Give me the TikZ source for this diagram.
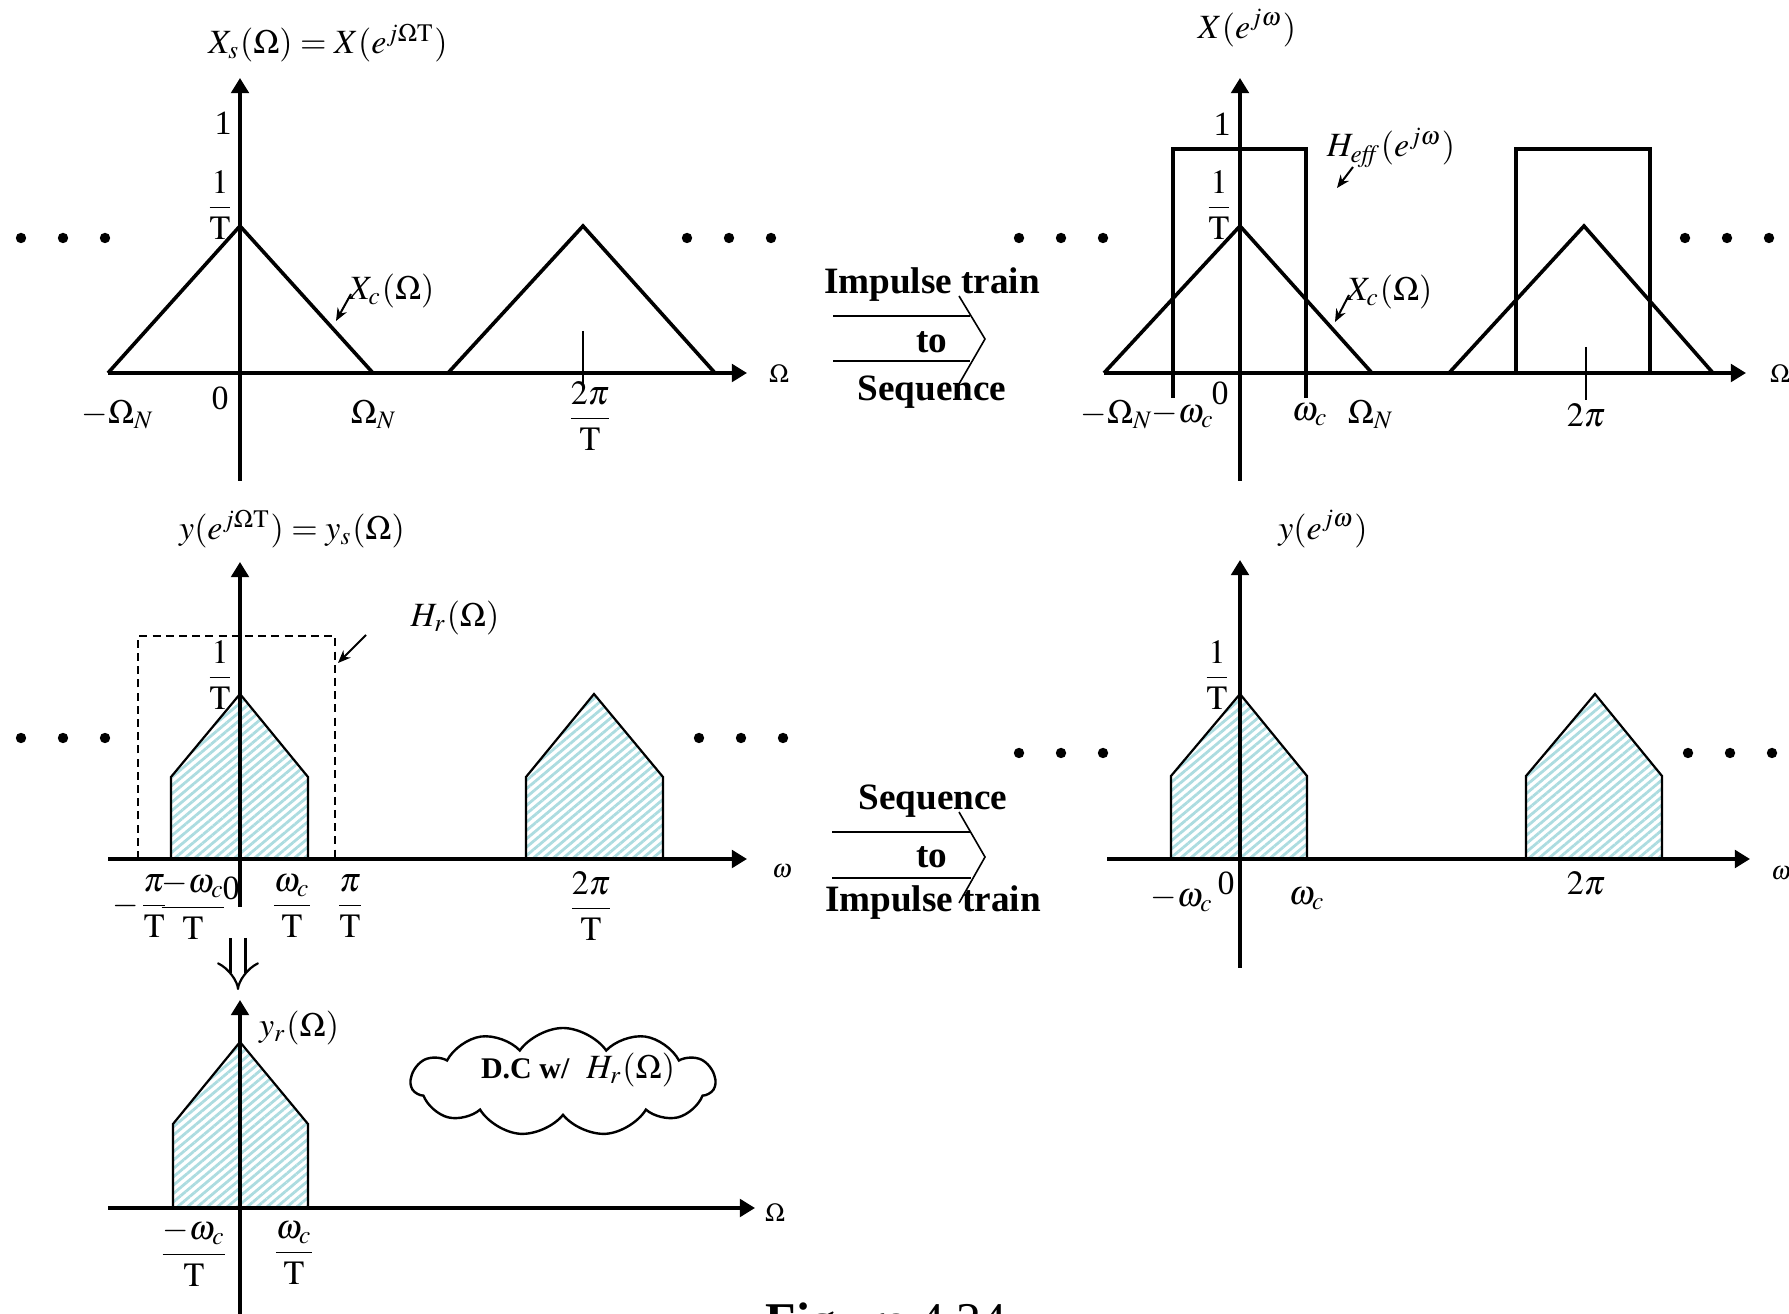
\documentclass[tikz,border=0pt]{standalone}
\usepackage{amsmath}
\usepackage{mathptmx}
\usepackage{fontspec}
\setmainfont{Liberation Serif}
\usepackage{tikz}
\usetikzlibrary{arrows.meta,patterns.meta,shapes.symbols}
\definecolor{hatchBlue}{RGB}{172,220,224}
\tikzset{
  axis/.style     = {line width=0.9pt, -{Triangle[length=3.8pt,width=4.4pt]}},
  spec/.style     = {line width=0.9pt, line join=miter},
  pent/.style     = {draw, line width=0.55pt,
                     pattern={Lines[angle=40,distance=1.6pt,line width=0.7pt]},
                     pattern color=hatchBlue},
  filt/.style     = {line width=0.85pt},
  hbox/.style     = {line width=0.5pt, dash pattern=on 2pt off 1.3pt},
  tickl/.style    = {line width=0.45pt},
  pointer/.style  = {line width=0.5pt, -{Stealth[length=3.2pt,width=2.6pt]}},
  lbl/.style      = {inner sep=0pt, font=\fontsize{8.5}{10}\selectfont},
  axlbl/.style    = {inner sep=0pt, font=\fontsize{6.5}{8}\selectfont},
  convtxt/.style  = {inner sep=0pt, font=\fontsize{9.3}{11}\selectfont\bfseries},
  convline/.style = {line width=0.7pt},
  chev/.style     = {line width=0.4pt},
  dcloud/.style   = {cloud, cloud puffs=11, cloud puff arc=110, draw, line width=0.6pt,
                     minimum width=76pt, minimum height=27pt, inner sep=0pt},
}
\newcommand{\dotrow}[2]{\foreach \k in {0,1,2} {\fill (#1+42*\k,#2) circle[radius=1.3pt];}}

\begin{document}
\begin{tikzpicture}[x=0.25pt, y=-0.25pt]
  \useasboundingbox (0,0) rectangle (1789,1314);

  % sampled spectrum, analog frequency
  \draw[axis] (108,373) -- (747,373);
  \draw[axis] (240,481) -- (240,78);
  \draw[spec] (108,373) -- (240,226) -- (373,373);
  \draw[spec] (448,373) -- (583,226) -- (715,373);
  \draw[tickl] (583,331) -- (583,390);
  \dotrow{21}{238}
  \dotrow{687}{238}
  \node[lbl] (xsTitle) at (328,43) {$X_s(\Omega) = X(e^{j\Omega\mathrm{T}})$};
  \node[lbl] (xsOne) at (223,123) {1};
  \node[lbl] (xsInvT) at (220,205) {$\dfrac{1}{\mathrm{T}}$};
  \node[lbl, anchor=west] (xsXc) at (348,291) {$X_c(\Omega)$};
  \coordinate (xsXcTip) at (336,321);
  \draw[pointer] ([shift={(3,3)}]xsXc.west) -- (xsXcTip);
  \node[lbl] (xsMinN) at (118,415) {$-\Omega_N$};
  \node[lbl] (xsZero) at (220,398) {0};
  \node[lbl] (xsOmN) at (374,415) {$\Omega_N$};
  \node[lbl] (xsTwoPi) at (590,416) {$\dfrac{2\pi}{\mathrm{T}}$};
  \node[axlbl] (xsAx) at (779,374) {$\Omega$};

  % impulse train to sequence
  \node[convtxt] (itTop) at (932,285) {Impulse train};
  \node[convtxt] (toTop) at (932,342) {to};
  \node[convtxt] (seqTop) at (932,392) {Sequence};
  \draw[convline] (833,316) -- (970,316);
  \draw[convline] (833,361) -- (970,361);
  \draw[chev] (959,296) -- (985,339) -- (959,384);

  % discrete-time spectrum with H_eff
  \draw[axis] (1104,373) -- (1746,373);
  \draw[axis] (1240,481) -- (1240,78);
  \draw[filt] (1173,398) -- (1173,149) -- (1306,149) -- (1306,398);
  \draw[filt] (1516,373) rectangle (1650,149);
  \draw[spec] (1104,373) -- (1240,226) -- (1372,373);
  \draw[spec] (1449,373) -- (1584,226) -- (1713,373);
  \draw[tickl] (1586,347) -- (1586,400);
  \dotrow{1019}{238}
  \dotrow{1685}{238}
  \node[lbl] (xwTitle) at (1247,28) {$X(e^{j\omega})$};
  \node[lbl] (xwOne) at (1222,124) {1};
  \node[lbl] (xwInvT) at (1219,205) {$\dfrac{1}{\mathrm{T}}$};
  \node[lbl] (xwHeff) at (1391,148) {$H_{\mathit{eff}}(e^{j\omega})$};
  \coordinate (xwHeffFrom) at (1353,167);
  \coordinate (xwHeffTip) at (1337,188);
  \draw[pointer] (xwHeffFrom) -- (xwHeffTip);
  \node[lbl, anchor=west] (xwXc) at (1346,292) {$X_c(\Omega)$};
  \coordinate (xwXcTip) at (1335,322);
  \draw[pointer] ([shift={(3,3)}]xwXc.west) -- (xwXcTip);
  \node[lbl] (xwMinN) at (1117,415) {$-\Omega_N$};
  \node[lbl] (xwMinC) at (1183,415) {$-\omega_c$};
  \node[lbl] (xwZero) at (1220,393) {0};
  \node[lbl] (xwWc) at (1310,415) {$\omega_c$};
  \node[lbl] (xwOmN) at (1371,415) {$\Omega_N$};
  \node[lbl] (xwTwoPi) at (1586,415) {$2\pi$};
  \node[axlbl] (xwAx) at (1780,374) {$\Omega$};

  % filtered sequence, analog frequency
  \draw[pent] (171,859) -- (171,777) -- (240,694) -- (308,777) -- (308,859) -- cycle;
  \draw[pent] (526,859) -- (526,777) -- (594,694) -- (663,777) -- (663,859) -- cycle;
  \draw[hbox] (138,859) rectangle (335,636);
  \draw[axis] (108,859) -- (747,859);
  \draw[axis] (240,907) -- (240,562);
  \dotrow{21}{738}
  \dotrow{699}{738}
  \node[lbl] (ysTitle) at (292,529) {$y(e^{j\Omega\mathrm{T}}) = y_s(\Omega)$};
  \node[lbl] (ysInvT) at (220,675) {$\dfrac{1}{\mathrm{T}}$};
  \node[lbl] (ysHr) at (455,618) {$H_r(\Omega)$};
  \coordinate (ysHrFrom) at (366,635);
  \coordinate (ysHrTip) at (338,663);
  \draw[pointer] (ysHrFrom) -- (ysHrTip);
  \node[lbl] (ysMinPi) at (141,906) {$-\dfrac{\pi}{\mathrm{T}}$};
  \node[lbl] (ysMinWc) at (193,906) {$\dfrac{-\omega_c}{\mathrm{T}}$};
  \node[lbl] (ysZero) at (231,888) {0};
  \node[lbl] (ysWc) at (292,906) {$\dfrac{\omega_c}{\mathrm{T}}$};
  \node[lbl] (ysPi) at (350,906) {$\dfrac{\pi}{\mathrm{T}}$};
  \node[lbl] (ysTwoPi) at (591,906) {$\dfrac{2\pi}{\mathrm{T}}$};
  \node[axlbl] (ysAx) at (782,871) {$\omega$};

  % sequence to impulse train
  \node[convtxt] (seqBot) at (933,801) {Sequence};
  \node[convtxt] (toBot) at (932,857) {to};
  \node[convtxt] (itBot) at (933,903) {Impulse train};
  \draw[convline] (832,832) -- (971,832);
  \draw[convline] (832,878) -- (971,878);
  \draw[chev] (959,812) -- (985,857) -- (959,903);

  % filtered sequence, digital frequency
  \draw[pent] (1171,859) -- (1171,776) -- (1240,694) -- (1307,776) -- (1307,859) -- cycle;
  \draw[pent] (1526,859) -- (1526,776) -- (1595,694) -- (1662,776) -- (1662,859) -- cycle;
  \draw[axis] (1107,859) -- (1750,859);
  \draw[axis] (1240,968) -- (1240,560);
  \dotrow{1019}{753}
  \dotrow{1688}{753}
  \node[lbl] (ywTitle) at (1323,529) {$y(e^{j\omega})$};
  \node[lbl] (ywInvT) at (1217,675) {$\dfrac{1}{\mathrm{T}}$};
  \node[lbl] (ywMinC) at (1182,899) {$-\omega_c$};
  \node[lbl] (ywZero) at (1226,883) {0};
  \node[lbl] (ywWc) at (1307,899) {$\omega_c$};
  \node[lbl] (ywTwoPi) at (1586,883) {$2\pi$};
  \node[axlbl] (ywAx) at (1781,873) {$\omega$};

  % reconstruction
  \coordinate (dnTop) at (238,938);
  \coordinate (dnEnd) at (238,990);
  \draw[line width=0.55pt, double distance=3.2pt, -{Implies}] (dnTop) -- (dnEnd);
  \draw[pent] (173,1208) -- (173,1124) -- (240,1042) -- (308,1124) -- (308,1208) -- cycle;
  \draw[axis] (108,1208) -- (755,1208);
  \draw[axis] (240,1314) -- (240,1000);
  \node[lbl] (yrLbl) at (299,1028) {$y_r(\Omega)$};
  \node[lbl] (yrMinWc) at (194,1253) {$\dfrac{-\omega_c}{\mathrm{T}}$};
  \node[lbl] (yrWc) at (294,1253) {$\dfrac{\omega_c}{\mathrm{T}}$};
  \node[axlbl] (yrAx) at (775,1213) {$\Omega$};
  \node[dcloud] (dcBubble) at (563,1082) {};
  \node[lbl] (dcText) at (578,1070) {{\fontsize{7.5}{9}\selectfont\bfseries D.C w/}\ \ $H_r(\Omega)$};

  \node[anchor=base west, inner sep=0pt, font=\fontsize{12.5}{15}\selectfont] (figCap)
    at (765,1337) {\textbf{Figure} 4.24};
\end{tikzpicture}
\end{document}
